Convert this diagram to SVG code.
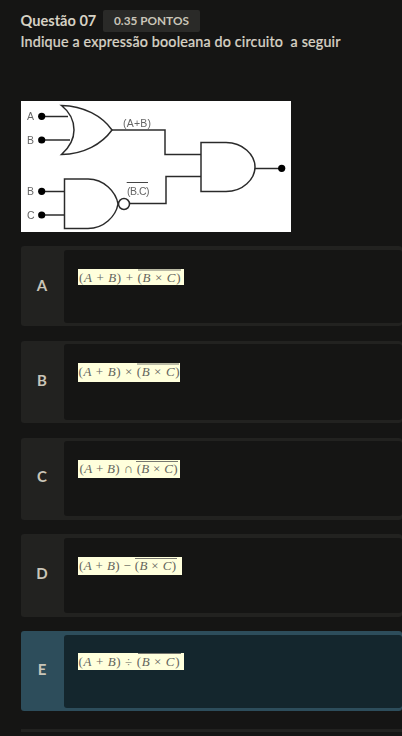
<svg xmlns="http://www.w3.org/2000/svg" width="402" height="736" viewBox="0 0 402 736">
<style>
.t{font-family:Lato,"Liberation Sans",sans-serif;fill:#d6d1c4}
.h{font-size:14.6px;font-weight:700}
.q{font-size:14.300px;font-weight:500;white-space:pre;stroke:#d6d1c4;stroke-width:.2}
.p{font-size:11.800px;font-weight:700;fill:#c9c5b8}
.card{fill:#222220}
.in{fill:#151514}
.l{font-family:Lato,"Liberation Sans",sans-serif;font-size:15px;font-weight:700;fill:#c9c5b8;text-anchor:middle}
.hl{fill:#ffffdc}
.m{font-family:"Liberation Serif",serif;font-size:13px;fill:#64655c}
.it{font-style:italic}
.ov{stroke:#77776f;stroke-width:1;fill:none}
.w{fill:none;stroke:#2c2c2c;stroke-width:1.500}
.d{fill:#000}
.c{font-family:"Liberation Sans",sans-serif;font-size:10.500px;fill:#666}
</style>
<defs><filter id="b" x="-5%" y="-5%" width="110%" height="110%"><feGaussianBlur stdDeviation="0.4"/></filter></defs>
<rect width="402" height="736" fill="#151514"/>
<g id="header">
<text class="t h" x="20.500" y="26">Questão 07</text>
<rect x="103" y="10" width="97" height="22" rx="2" fill="#2a2a28"/>
<text class="t p" x="114" y="25">0.35 PONTOS</text>
<text class="t q" x="20.500" y="47" textLength="320">Indique a expressão booleana do circuito  a seguir</text>
</g>
<g id="circuit">
<rect x="21" y="101" width="270" height="131" fill="#fff"/>
<g filter="url(#b)">
<g id="connectors" class="w">
<path d="M42 116.500H68M42 140H70M112 130H165V154.500H201M42 191.500H64M42 215H64M130 203.500H166V176.500H201M255 168.500H282"/>
</g>
<g id="or-gate"><path class="w" d="M61.500 105.500C84 106 102 116 112 130C102 144 84 154 61.500 154.500C71 146 74 138 74 130C74 122 71 113 61.500 105.500Z"/></g>
<g id="nand-gate"><path class="w" d="M64.500 179H88C104 179 116 192 118 204C116 216 104 228.500 88 228.500H64.500Z"/><circle class="w" cx="124" cy="204" r="5.500"/></g>
<g id="and-gate"><path class="w" d="M201 142.500H226C243 142.500 255 155 255 167C255 179 243 191.500 226 191.500H201Z"/></g>
<g id="terminals">
<circle class="d" cx="41.700" cy="116.300" r="3.600"/><circle class="d" cx="41.700" cy="140" r="3.600"/><circle class="d" cx="41.700" cy="191.300" r="3.600"/><circle class="d" cx="41.700" cy="215" r="3.600"/><circle class="d" cx="281.700" cy="168.300" r="3.600"/>
<text class="c" x="27" y="119.500">A</text><text class="c" x="27" y="143.500">B</text><text class="c" x="27" y="194.500">B</text><text class="c" x="27" y="218.500">C</text>
<text class="c" x="123" y="126.500" textLength="28">(A+B)</text><text class="c" x="127" y="194.500" textLength="22.500">(B.C)</text>
<path d="M126.700 182.500H148" stroke="#444" stroke-width="1"/>
</g>
</g>
</g>
<g id="option-a">
<rect class="card" x="21" y="246" width="381" height="80" rx="3"/>
<rect class="in" x="64" y="250" width="338" height="73" rx="3"/>
<text class="l" x="42" y="291">A</text>
<rect class="hl" x="78" y="269" width="106" height="16"/>
<text class="m" x="79" y="282" textLength="101.500" xml:space="preserve">(<tspan class="it">A</tspan> + <tspan class="it">B</tspan>) + (<tspan class="it">B</tspan> × <tspan class="it">C</tspan>)</text>
<path class="ov" d="M138 270H181"/>
</g>
<g id="option-b">
<rect class="card" x="21" y="341" width="381" height="82" rx="3"/>
<rect class="in" x="64" y="344" width="338" height="76" rx="3"/>
<text class="l" x="42" y="386">B</text>
<rect class="hl" x="78" y="363" width="102" height="19"/>
<text class="m" x="78.500" y="376" textLength="101" xml:space="preserve">(<tspan class="it">A</tspan> + <tspan class="it">B</tspan>) × (<tspan class="it">B</tspan> × <tspan class="it">C</tspan>)</text>
<path class="ov" d="M137 364H179"/>
</g>
<g id="option-c">
<rect class="card" x="21" y="438" width="381" height="82" rx="3"/>
<rect class="in" x="64" y="441" width="338" height="75" rx="3"/>
<text class="l" x="42" y="482">C</text>
<rect class="hl" x="78" y="460" width="102" height="18"/>
<text class="m" x="79.500" y="473" textLength="98" xml:space="preserve">(<tspan class="it">A</tspan> + <tspan class="it">B</tspan>) ∩ (<tspan class="it">B</tspan> × <tspan class="it">C</tspan>)</text>
<path class="ov" d="M136 461.500H178"/>
</g>
<g id="option-d">
<rect class="card" x="21" y="534" width="381" height="83" rx="3"/>
<rect class="in" x="64" y="538" width="338" height="75" rx="3"/>
<text class="l" x="42" y="579">D</text>
<rect class="hl" x="78" y="557" width="104" height="18"/>
<text class="m" x="79" y="570" textLength="97" xml:space="preserve">(<tspan class="it">A</tspan> + <tspan class="it">B</tspan>) − (<tspan class="it">B</tspan> × <tspan class="it">C</tspan>)</text>
<path class="ov" d="M135 558.500H177"/>
</g>
<g id="option-e">
<rect x="21" y="631" width="381" height="80" rx="3" fill="#2d4d5b"/>
<rect x="64" y="635" width="338" height="73" rx="3" fill="#14262d"/>
<text class="l" x="42" y="675">E</text>
<rect class="hl" x="78" y="653" width="106" height="17"/>
<text class="m" x="78.500" y="666" textLength="101" xml:space="preserve">(<tspan class="it">A</tspan> + <tspan class="it">B</tspan>) ÷ (<tspan class="it">B</tspan> × <tspan class="it">C</tspan>)</text>
<path class="ov" d="M138 653.500H181"/>
</g>
<rect x="21" y="729" width="381" height="3" fill="#222220"/>
</svg>
